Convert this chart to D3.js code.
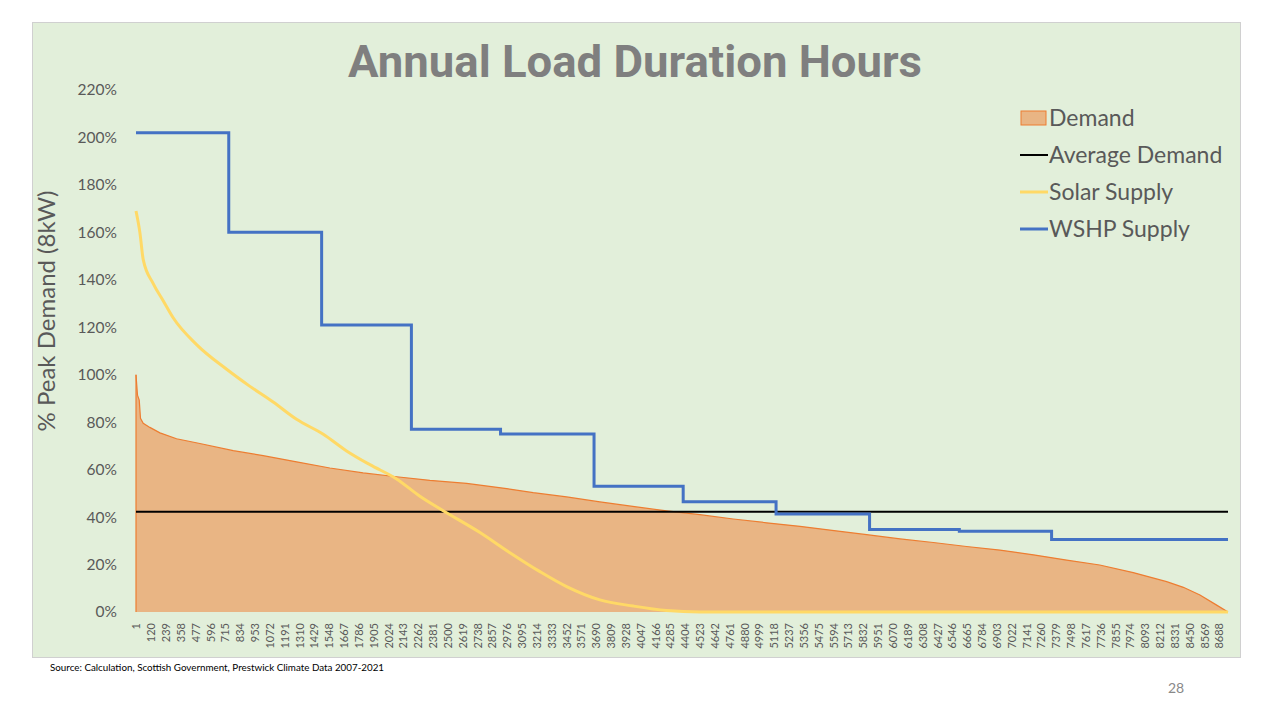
<!DOCTYPE html>
<html>
<head>
<meta charset="utf-8">
<script src="https://cdn.jsdelivr.net/npm/d3@7"></script>
<style>
  body { margin: 0; background: #ffffff; }
  svg { display: block; }
</style>
</head>
<body>
<div id="chart"></div>
<script>
// hour of year (sorted) and % of peak demand
const demandHours = [1, 13, 27, 37, 59, 112, 193, 326, 513, 781, 1021, 1289, 1556, 1823, 2091, 2358, 2653, 2974, 3187, 3455, 3722, 4000, 4257, 4524, 4792, 5060, 5327, 5600, 5862, 6130, 6396, 6663, 6931, 7200, 7466, 7731, 8000, 8268, 8402, 8535, 8669, 8760];
const demandPct = [100, 91.4, 89.3, 81.6, 79.5, 77.8, 75.5, 73, 71, 68, 65.9, 63.3, 60.7, 58.6, 57, 55.5, 54.2, 52, 50.3, 48.5, 46.4, 44.4, 42.6, 41, 39.2, 37.6, 36.1, 34.3, 32.6, 30.8, 29.3, 27.6, 26.1, 24.1, 21.9, 19.8, 16.6, 12.8, 10.4, 7.2, 2.9, 0];

const solarHours = [1, 32, 59, 139, 219, 299, 487, 728, 915, 1101, 1289, 1503, 1690, 1877, 2091, 2278, 2465, 2760, 3000, 3241, 3455, 3722, 3990, 4257, 4524, 8760];
const solarPct = [169, 160, 148.5, 138.4, 131.2, 124, 112.7, 102.3, 95.1, 88.5, 81.2, 74.9, 67.9, 62.1, 56.1, 48.8, 42.7, 33.5, 25, 17, 10.7, 5.1, 2.5, 0.6, 0, 0];

const wshpHours = [1, 745, 1490, 2210, 2925, 3675, 4390, 5135, 5885, 6605, 7345, 8760];
const wshpPct = [202, 160, 121, 77, 75, 53, 46.5, 41.3, 34.8, 34, 30.6, 30.6];

const averageDemand = 42.2;

const yTicks = [0, 20, 40, 60, 80, 100, 120, 140, 160, 180, 200, 220];
const xTickLabels = [1, 120, 239, 358, 477, 596, 715, 834, 953, 1072, 1191, 1310, 1429, 1548, 1667, 1786, 1905, 2024, 2143, 2262, 2381, 2500, 2619, 2738, 2857, 2976, 3095, 3214, 3333, 3452, 3571, 3690, 3809, 3928, 4047, 4166, 4285, 4404, 4523, 4642, 4761, 4880, 4999, 5118, 5237, 5356, 5475, 5594, 5713, 5832, 5951, 6070, 6189, 6308, 6427, 6546, 6665, 6784, 6903, 7022, 7141, 7260, 7379, 7498, 7617, 7736, 7855, 7974, 8093, 8212, 8331, 8450, 8569, 8688];

const legendItems = ["Demand", "Average Demand", "Solar Supply", "WSHP Supply"];

const dim = { width: 1280, height: 720 };
const plot = { left: 136, right: 1228, top: 90, bottom: 612 };

const svg = d3.select("#chart")
  .append("svg")
  .attr("width", dim.width)
  .attr("height", dim.height);

// chart background
svg.append("rect")
  .attr("x", 32.5)
  .attr("y", 22.5)
  .attr("width", 1208)
  .attr("height", 635)
  .attr("fill", "#E2EFDA")
  .attr("stroke", "#D0D0D0")
  .attr("stroke-width", 1);

const x = d3.scaleLinear().domain([1, 8760]).range([plot.left, plot.right]);
const y = d3.scaleLinear().domain([0, 220]).range([plot.bottom, plot.top]);

// title
svg.append("text")
  .attr("x", 635)
  .attr("y", 77)
  .attr("text-anchor", "middle")
  .attr("font-family", "Roboto, sans-serif")
  .attr("font-weight", 700)
  .attr("font-size", 44)
  .attr("fill", "#7F7F7F")
  .attr("textLength", 574)
  .attr("lengthAdjust", "spacingAndGlyphs")
  .text("Annual Load Duration Hours");

// y axis
const yAxis = svg.append("g")
  .attr("transform", "translate(" + (plot.left - 16) + ",0)")
  .call(d3.axisLeft(y).tickValues(yTicks).tickSize(0).tickFormat((d) => d + "%"));
yAxis.select(".domain").remove();
yAxis.selectAll("text")
  .attr("font-family", "Lato, sans-serif")
  .attr("font-size", 15.5)
  .attr("fill", "#595959");

svg.append("text")
  .attr("transform", "translate(55,311) rotate(-90)")
  .attr("text-anchor", "middle")
  .attr("font-family", "Lato, sans-serif")
  .attr("font-size", 24)
  .attr("fill", "#595959")
  .text("% Peak Demand (8kW)");

// x axis (category labels every 119 hours)
const xAxis = svg.append("g")
  .attr("transform", "translate(0," + (plot.bottom + 9) + ")")
  .call(d3.axisBottom(x).tickValues(xTickLabels).tickSize(0).tickFormat((d) => d));
xAxis.select(".domain").remove();
xAxis.selectAll("text")
  .attr("font-family", "Lato, sans-serif")
  .attr("font-size", 11)
  .attr("fill", "#595959")
  .attr("text-anchor", "end")
  .attr("dy", "0.35em")
  .attr("transform", "rotate(-90)")
  .attr("x", -2)
  .attr("y", 0);

// demand area
const demand = demandHours.map((h, i) => ({ h: h, v: demandPct[i] }));
svg.append("path")
  .datum(demand)
  .attr("fill", "#E9B584")
  .attr("d", d3.area().x((d) => x(d.h)).y0(y(0)).y1((d) => y(d.v)));
svg.append("path")
  .datum(demand)
  .attr("fill", "none")
  .attr("stroke", "#ED7D31")
  .attr("stroke-width", 1.2)
  .attr("d", d3.line().x((d) => x(d.h)).y((d) => y(d.v)));
svg.append("line")
  .attr("x1", x(1)).attr("x2", x(1))
  .attr("y1", y(0)).attr("y2", y(demandPct[0]))
  .attr("stroke", "#ED7D31")
  .attr("stroke-width", 1.2);

// average demand
svg.append("line")
  .attr("x1", x(1))
  .attr("x2", x(8760))
  .attr("y1", y(averageDemand))
  .attr("y2", y(averageDemand))
  .attr("stroke", "#000000")
  .attr("stroke-width", 2);

// solar supply
const solar = solarHours.map((h, i) => ({ h: h, v: solarPct[i] }));
svg.append("path")
  .datum(solar)
  .attr("fill", "none")
  .attr("stroke", "#FFD966")
  .attr("stroke-width", 3)
  .attr("d", d3.line().curve(d3.curveMonotoneX).x((d) => x(d.h)).y((d) => y(d.v)));

// WSHP supply (monthly steps)
const wshp = wshpHours.map((h, i) => ({ h: h, v: wshpPct[i] }));
svg.append("path")
  .datum(wshp)
  .attr("fill", "none")
  .attr("stroke", "#4472C4")
  .attr("stroke-width", 3)
  .attr("d", d3.line().curve(d3.curveStepAfter).x((d) => x(d.h)).y((d) => y(d.v)));

// legend
const legend = svg.append("g").attr("transform", "translate(1020,118)");
legendItems.forEach((name, i) => {
  const g = legend.append("g").attr("transform", "translate(0," + i * 37 + ")");
  if (i == 0) {
    g.append("rect")
      .attr("x", 1).attr("y", -7)
      .attr("width", 25).attr("height", 14)
      .attr("fill", "#E9B584")
      .attr("stroke", "#ED7D31")
      .attr("stroke-width", 1);
  } else {
    g.append("line")
      .attr("x1", 0).attr("x2", 28)
      .attr("y1", 0).attr("y2", 0)
      .attr("stroke", ["", "#000000", "#FFD966", "#4472C4"][i])
      .attr("stroke-width", i == 1 ? 2 : 3);
  }
  g.append("text")
    .attr("x", 29)
    .attr("y", 0)
    .attr("dy", "0.35em")
    .attr("font-family", "Lato, sans-serif")
    .attr("font-size", 23)
    .attr("fill", "#595959")
    .text(name);
});

// source + page number
svg.append("text")
  .attr("x", 50)
  .attr("y", 671)
  .attr("font-family", "Lato, sans-serif")
  .attr("font-size", 9.8)
  .attr("fill", "#000000")
  .text("Source: Calculation, Scottish Government, Prestwick Climate Data 2007-2021");

svg.append("text")
  .attr("x", 1176)
  .attr("y", 693)
  .attr("text-anchor", "middle")
  .attr("font-family", "Lato, sans-serif")
  .attr("font-size", 14)
  .attr("fill", "#898989")
  .text("28");
</script>
</body>
</html>
